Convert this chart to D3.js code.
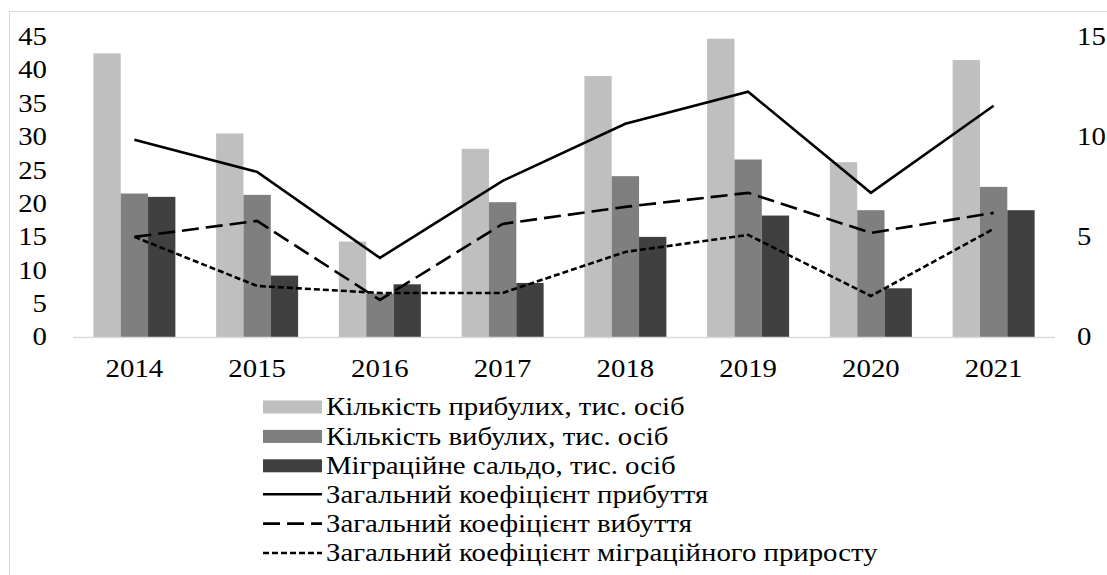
<!DOCTYPE html>
<html>
<head>
<meta charset="utf-8">
<script src="https://cdn.jsdelivr.net/npm/d3@7"></script>
<style>
  body { margin: 0; background: #fff; font-family: "Liberation Serif", "Times New Roman", serif; }
  #chart svg text { font-family: "Liberation Serif", "Times New Roman", serif !important; }
</style>
</head>
<body>
<div id="chart"></div>
<script>
// data
const years = ["2014", "2015", "2016", "2017", "2018", "2019", "2020", "2021"];
const arrivals = [42.5, 30.5, 14.3, 28.2, 39.1, 44.7, 26.2, 41.5];
const departures = [21.5, 21.3, 6.5, 20.2, 24.1, 26.6, 19.0, 22.5];
const netMigration = [21.0, 9.2, 7.9, 8.1, 15.0, 18.2, 7.3, 19.0];
const arrivalRate = [9.85, 8.25, 3.95, 7.8, 10.65, 12.25, 7.2, 11.55];
const departureRate = [5.0, 5.8, 1.85, 5.65, 6.5, 7.2, 5.2, 6.2];
const netRate = [5.0, 2.55, 2.2, 2.2, 4.25, 5.1, 2.05, 5.4];
const leftTicks = [0, 5, 10, 15, 20, 25, 30, 35, 40, 45];
const rightTicks = [0, 5, 10, 15];

const barSeries = [
  { name: "Кількість прибулих, тис. осіб", values: arrivals, color: "#bfbfbf" },
  { name: "Кількість вибулих, тис. осіб", values: departures, color: "#7f7f7f" },
  { name: "Міграційне сальдо, тис. осіб", values: netMigration, color: "#404040" }
];
const lineSeries = [
  { name: "Загальний коефіцієнт прибуття", values: arrivalRate, dash: null },
  { name: "Загальний коефіцієнт вибуття", values: departureRate, dash: "17,7" },
  { name: "Загальний коефіцієнт міграційного приросту", values: netRate, dash: "6,3" }
];

const serifFont = "Liberation Serif";
const FS = 25.5;
// the original picture is a bit stretched sideways, text included
const SX = 1.13;
const width = 1107, height = 575;
const plot = { left: 73, right: 1055, top: 36.7, bottom: 337 };

const svg = d3.select("#chart").append("svg")
  .attr("width", width)
  .attr("height", height)
  .style("font-family", `"${serifFont}"`);

// chart frame
svg.append("rect")
  .attr("x", 9.5).attr("y", 11.5)
  .attr("width", 1120).attr("height", 600)
  .attr("fill", "none")
  .attr("stroke", "#d9d9d9")
  .attr("stroke-width", 1);

const x = d3.scaleBand().domain(years).range([plot.left, plot.right]);
const xInner = d3.scaleBand().domain(barSeries.map(s => s.name)).range([-41, 41]);
const yLeft = d3.scaleLinear().domain([0, 45]).range([plot.bottom, plot.top]);
const yRight = d3.scaleLinear().domain([0, 15]).range([plot.bottom, plot.top]);

// bars
barSeries.forEach(s => {
  svg.append("g").selectAll("rect")
    .data(s.values)
    .enter()
    .append("rect")
    .attr("x", (d, i) => x(years[i]) + x.bandwidth() / 2 + xInner(s.name))
    .attr("width", xInner.bandwidth())
    .attr("y", d => yLeft(d))
    .attr("height", d => yLeft(0) - yLeft(d))
    .attr("fill", s.color);
});

// x axis line
svg.append("line")
  .attr("x1", plot.left).attr("x2", plot.right)
  .attr("y1", yLeft(0) + 0.5).attr("y2", yLeft(0) + 0.5)
  .attr("stroke", "#d9d9d9")
  .attr("stroke-width", 1.5);

// lines on secondary axis
const line = d3.line()
  .x((d, i) => x(years[i]) + x.bandwidth() / 2)
  .y(d => yRight(d));

lineSeries.forEach(s => {
  svg.append("path")
    .datum(s.values)
    .attr("d", line)
    .attr("fill", "none")
    .attr("stroke", "#000")
    .attr("stroke-width", 2.6)
    .attr("stroke-dasharray", s.dash);
});

// place a label at (px, py) with the sideways stretch
const label = (sel, px, py) => sel
  .attr("transform", (d, i) => `translate(${px(d, i)},${py(d, i)}) scale(${SX},1)`)
  .attr("font-size", FS)
  .style("font-family", `"${serifFont}"`);

// left axis labels
svg.append("g").selectAll("text")
  .data(leftTicks)
  .enter()
  .append("text")
  .call(label, () => 47, d => yLeft(d))
  .attr("dy", "0.33em")
  .attr("text-anchor", "end")
  .text(d => d);

// right axis labels
svg.append("g").selectAll("text")
  .data(rightTicks)
  .enter()
  .append("text")
  .call(label, () => 1077, d => yRight(d))
  .attr("dy", "0.33em")
  .attr("text-anchor", "start")
  .text(d => d);

// category labels
svg.append("g").selectAll("text")
  .data(years)
  .enter()
  .append("text")
  .call(label, d => x(d) + x.bandwidth() / 2, () => 377)
  .attr("text-anchor", "middle")
  .text(d => d);

// legend
const legend = svg.append("g");
const rowY = i => 407 + i * 29.4;
const textX = 326;

barSeries.forEach((s, i) => {
  legend.append("rect")
    .attr("x", 263).attr("y", rowY(i) - 6.5)
    .attr("width", 59).attr("height", 13)
    .attr("fill", s.color);
  legend.append("text")
    .call(label, () => textX, () => rowY(i))
    .attr("dy", "0.33em")
    .text(s.name);
});

lineSeries.forEach((s, i) => {
  const yy = rowY(i + 3) - 1;
  legend.append("line")
    .attr("x1", 263).attr("x2", 322)
    .attr("y1", yy).attr("y2", yy)
    .attr("stroke", "#000")
    .attr("stroke-width", 2.6)
    .attr("stroke-dasharray", s.dash);
  legend.append("text")
    .call(label, () => textX, () => yy)
    .attr("dy", "0.33em")
    .text(s.name);
});
</script>
</body>
</html>
